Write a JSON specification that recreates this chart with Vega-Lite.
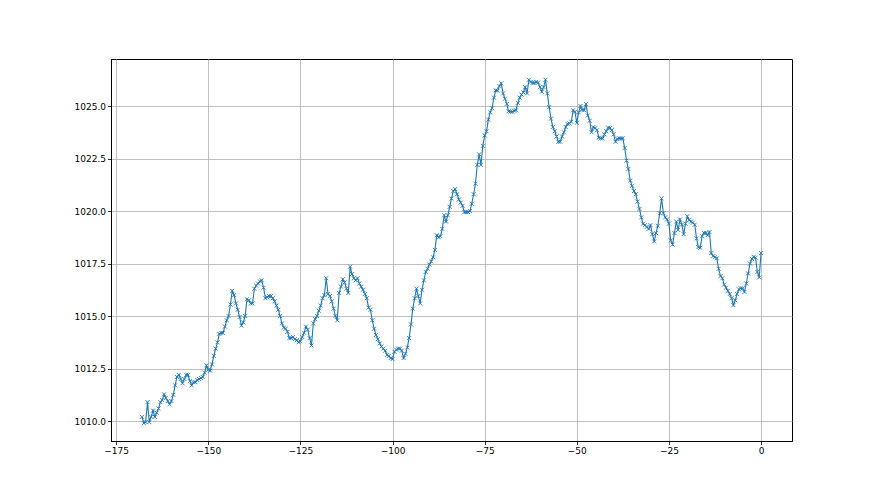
{
  "$schema": "https://vega.github.io/schema/vega-lite/v6.json",
  "width": 681,
  "height": 382,
  "autosize": {"type": "none"},
  "padding": {"left": 111, "top": 59, "right": 88, "bottom": 54},
  "background": "white",
  "config": {
    "view": {"stroke": "black", "strokeWidth": 1},
    "axis": {
      "domainColor": "black", "domainWidth": 1,
      "tickColor": "black", "tickSize": 3.5, "tickWidth": 0.8,
      "gridColor": "#b0b0b0", "gridWidth": 0.8,
      "labelColor": "black", "labelFont": "DejaVu Sans", "labelFontSize": 9,
      "labelPadding": 2, "title": null
    }
  },
  "data": {"values": [
    {"x":-168,"y":1010.2},{"x":-167.5,"y":1009.9},{"x":-167,"y":1009.95},{"x":-166.5,"y":1010.9},{"x":-166,"y":1009.95},{"x":-165.5,"y":1010.2},{"x":-165,"y":1010.5},{"x":-164.5,"y":1010.2},{"x":-164,"y":1010.4},{"x":-163.5,"y":1010.6},{"x":-163,"y":1010.9},{"x":-162.5,"y":1011.0},{"x":-162,"y":1011.27},{"x":-161.5,"y":1011.1},{"x":-161,"y":1010.95},{"x":-160.5,"y":1010.8},{"x":-160,"y":1010.95},{"x":-159.5,"y":1011.25},{"x":-159,"y":1011.7},{"x":-158.5,"y":1012.1},{"x":-158,"y":1012.2},{"x":-157.5,"y":1012.0},{"x":-157,"y":1011.8},{"x":-156.5,"y":1012.0},{"x":-156,"y":1012.2},{"x":-155.5,"y":1012.2},{"x":-155,"y":1011.9},{"x":-154.5,"y":1011.7},{"x":-154,"y":1011.85},{"x":-153.5,"y":1011.85},{"x":-153,"y":1011.95},{"x":-152.5,"y":1012.0},{"x":-152,"y":1012.05},{"x":-151.5,"y":1012.1},{"x":-151,"y":1012.3},{"x":-150.5,"y":1012.65},{"x":-150,"y":1012.45},{"x":-149.5,"y":1012.4},{"x":-149,"y":1012.7},{"x":-148.5,"y":1013.1},{"x":-148,"y":1013.45},{"x":-147.5,"y":1013.75},{"x":-147,"y":1014.15},{"x":-146.5,"y":1014.2},{"x":-146,"y":1014.2},{"x":-145.5,"y":1014.5},{"x":-145,"y":1014.8},{"x":-144.5,"y":1015.0},{"x":-144,"y":1015.55},{"x":-143.5,"y":1016.2},{"x":-143,"y":1016.0},{"x":-142.5,"y":1015.6},{"x":-142,"y":1015.3},{"x":-141.5,"y":1014.95},{"x":-141,"y":1014.55},{"x":-140.5,"y":1014.7},{"x":-140,"y":1015.0},{"x":-139.5,"y":1015.8},{"x":-139,"y":1015.75},{"x":-138.5,"y":1015.6},{"x":-138,"y":1015.6},{"x":-137.5,"y":1016.3},{"x":-137,"y":1016.45},{"x":-136.5,"y":1016.55},{"x":-136,"y":1016.65},{"x":-135.5,"y":1016.7},{"x":-135,"y":1016.35},{"x":-134.5,"y":1015.85},{"x":-134,"y":1015.9},{"x":-133.5,"y":1015.95},{"x":-133,"y":1015.95},{"x":-132.5,"y":1015.85},{"x":-132,"y":1015.7},{"x":-131.5,"y":1015.5},{"x":-131,"y":1015.3},{"x":-130.5,"y":1015.0},{"x":-130,"y":1014.65},{"x":-129.5,"y":1014.45},{"x":-129,"y":1014.4},{"x":-128.5,"y":1014.25},{"x":-128,"y":1013.95},{"x":-127.5,"y":1013.95},{"x":-127,"y":1014.0},{"x":-126.5,"y":1013.9},{"x":-126,"y":1013.85},{"x":-125.5,"y":1013.75},{"x":-125,"y":1013.8},{"x":-124.5,"y":1014.0},{"x":-124,"y":1014.2},{"x":-123.5,"y":1014.5},{"x":-123,"y":1014.35},{"x":-122.5,"y":1013.95},{"x":-122,"y":1013.6},{"x":-121.5,"y":1014.65},{"x":-121,"y":1014.85},{"x":-120.5,"y":1015.0},{"x":-120,"y":1015.25},{"x":-119.5,"y":1015.5},{"x":-119,"y":1015.85},{"x":-118.5,"y":1016.0},{"x":-118,"y":1016.8},{"x":-117.5,"y":1016.05},{"x":-117,"y":1015.95},{"x":-116.5,"y":1015.7},{"x":-116,"y":1015.35},{"x":-115.5,"y":1015.0},{"x":-115,"y":1014.8},{"x":-114.5,"y":1016.1},{"x":-114,"y":1016.4},{"x":-113.5,"y":1016.75},{"x":-113,"y":1016.6},{"x":-112.5,"y":1016.3},{"x":-112,"y":1016.1},{"x":-111.5,"y":1017.35},{"x":-111,"y":1017.0},{"x":-110.5,"y":1016.8},{"x":-110,"y":1016.7},{"x":-109.5,"y":1016.8},{"x":-109,"y":1016.55},{"x":-108.5,"y":1016.4},{"x":-108,"y":1016.25},{"x":-107.5,"y":1016.05},{"x":-107,"y":1015.85},{"x":-106.5,"y":1015.4},{"x":-106,"y":1015.3},{"x":-105.5,"y":1014.8},{"x":-105,"y":1014.4},{"x":-104.5,"y":1014.1},{"x":-104,"y":1013.9},{"x":-103.5,"y":1013.7},{"x":-103,"y":1013.55},{"x":-102.5,"y":1013.45},{"x":-102,"y":1013.35},{"x":-101.5,"y":1013.15},{"x":-101,"y":1013.1},{"x":-100.5,"y":1013.0},{"x":-100,"y":1012.95},{"x":-99.5,"y":1013.3},{"x":-99,"y":1013.4},{"x":-98.5,"y":1013.45},{"x":-98,"y":1013.45},{"x":-97.5,"y":1013.35},{"x":-97,"y":1013.0},{"x":-96.5,"y":1013.2},{"x":-96,"y":1013.5},{"x":-95.5,"y":1013.95},{"x":-95,"y":1014.6},{"x":-94.5,"y":1015.35},{"x":-94,"y":1015.85},{"x":-93.5,"y":1016.3},{"x":-93,"y":1015.95},{"x":-92.5,"y":1015.6},{"x":-92,"y":1016.25},{"x":-91.5,"y":1016.7},{"x":-91,"y":1017.1},{"x":-90.5,"y":1017.25},{"x":-90,"y":1017.45},{"x":-89.5,"y":1017.6},{"x":-89,"y":1017.8},{"x":-88.5,"y":1018.15},{"x":-88,"y":1018.85},{"x":-87.5,"y":1018.75},{"x":-87,"y":1018.8},{"x":-86.5,"y":1019.15},{"x":-86,"y":1019.8},{"x":-85.5,"y":1019.5},{"x":-85,"y":1019.8},{"x":-84.5,"y":1020.2},{"x":-84,"y":1020.6},{"x":-83.5,"y":1020.95},{"x":-83,"y":1021.05},{"x":-82.5,"y":1020.8},{"x":-82,"y":1020.55},{"x":-81.5,"y":1020.4},{"x":-81,"y":1020.25},{"x":-80.5,"y":1019.95},{"x":-80,"y":1019.95},{"x":-79.5,"y":1019.95},{"x":-79,"y":1020.0},{"x":-78.5,"y":1020.35},{"x":-78,"y":1020.8},{"x":-77.5,"y":1021.3},{"x":-77,"y":1022.2},{"x":-76.5,"y":1022.7},{"x":-76,"y":1022.2},{"x":-75.5,"y":1023.1},{"x":-75,"y":1023.6},{"x":-74.5,"y":1023.8},{"x":-74,"y":1024.35},{"x":-73.5,"y":1024.7},{"x":-73,"y":1024.9},{"x":-72.5,"y":1025.4},{"x":-72,"y":1025.75},{"x":-71.5,"y":1025.73},{"x":-71,"y":1025.95},{"x":-70.5,"y":1026.08},{"x":-70,"y":1025.6},{"x":-69.5,"y":1025.35},{"x":-69,"y":1025.1},{"x":-68.5,"y":1024.75},{"x":-68,"y":1024.73},{"x":-67.5,"y":1024.73},{"x":-67,"y":1024.78},{"x":-66.5,"y":1024.8},{"x":-66,"y":1025.15},{"x":-65.5,"y":1025.4},{"x":-65,"y":1025.55},{"x":-64.5,"y":1025.65},{"x":-64,"y":1025.9},{"x":-63.5,"y":1025.6},{"x":-63,"y":1026.25},{"x":-62.5,"y":1026.15},{"x":-62,"y":1026.1},{"x":-61.5,"y":1026.1},{"x":-61,"y":1026.15},{"x":-60.5,"y":1026.12},{"x":-60,"y":1025.9},{"x":-59.5,"y":1025.68},{"x":-59,"y":1025.9},{"x":-58.5,"y":1026.25},{"x":-58,"y":1025.6},{"x":-57.5,"y":1024.95},{"x":-57,"y":1024.4},{"x":-56.5,"y":1024.0},{"x":-56,"y":1023.8},{"x":-55.5,"y":1023.55},{"x":-55,"y":1023.3},{"x":-54.5,"y":1023.3},{"x":-54,"y":1023.55},{"x":-53.5,"y":1023.75},{"x":-53,"y":1024.0},{"x":-52.5,"y":1024.15},{"x":-52,"y":1024.17},{"x":-51.5,"y":1024.25},{"x":-51,"y":1024.8},{"x":-50.5,"y":1024.73},{"x":-50,"y":1024.2},{"x":-49.5,"y":1024.7},{"x":-49,"y":1025.0},{"x":-48.5,"y":1024.81},{"x":-48,"y":1024.8},{"x":-47.5,"y":1025.1},{"x":-47,"y":1024.55},{"x":-46.5,"y":1024.3},{"x":-46,"y":1023.75},{"x":-45.5,"y":1024.0},{"x":-45,"y":1023.95},{"x":-44.5,"y":1023.85},{"x":-44,"y":1023.5},{"x":-43.5,"y":1023.46},{"x":-43,"y":1023.46},{"x":-42.5,"y":1023.65},{"x":-42,"y":1023.8},{"x":-41.5,"y":1023.97},{"x":-41,"y":1023.95},{"x":-40.5,"y":1023.85},{"x":-40,"y":1023.65},{"x":-39.5,"y":1023.3},{"x":-39,"y":1023.43},{"x":-38.5,"y":1023.46},{"x":-38,"y":1023.46},{"x":-37.5,"y":1023.46},{"x":-37,"y":1023.0},{"x":-36.5,"y":1022.4},{"x":-36,"y":1022.0},{"x":-35.5,"y":1021.45},{"x":-35,"y":1021.2},{"x":-34.5,"y":1020.95},{"x":-34,"y":1020.8},{"x":-33.5,"y":1020.45},{"x":-33,"y":1020.1},{"x":-32.5,"y":1019.7},{"x":-32,"y":1019.4},{"x":-31.5,"y":1019.33},{"x":-31,"y":1019.25},{"x":-30.5,"y":1019.15},{"x":-30,"y":1019.33},{"x":-29.5,"y":1018.9},{"x":-29,"y":1018.55},{"x":-28.5,"y":1018.95},{"x":-28,"y":1019.3},{"x":-27.5,"y":1019.9},{"x":-27,"y":1020.6},{"x":-26.5,"y":1019.9},{"x":-26,"y":1019.7},{"x":-25.5,"y":1019.6},{"x":-25,"y":1019.4},{"x":-24.5,"y":1018.6},{"x":-24,"y":1018.4},{"x":-23.5,"y":1018.95},{"x":-23,"y":1019.5},{"x":-22.5,"y":1019.1},{"x":-22,"y":1019.6},{"x":-21.5,"y":1019.35},{"x":-21,"y":1018.9},{"x":-20.5,"y":1019.4},{"x":-20,"y":1019.75},{"x":-19.5,"y":1019.57},{"x":-19,"y":1019.5},{"x":-18.5,"y":1019.45},{"x":-18,"y":1019.35},{"x":-17.5,"y":1018.7},{"x":-17,"y":1018.28},{"x":-16.5,"y":1018.25},{"x":-16,"y":1018.8},{"x":-15.5,"y":1018.96},{"x":-15,"y":1018.96},{"x":-14.5,"y":1018.85},{"x":-14,"y":1019.0},{"x":-13.5,"y":1018.0},{"x":-13,"y":1017.85},{"x":-12.5,"y":1017.8},{"x":-12,"y":1017.75},{"x":-11.5,"y":1017.25},{"x":-11,"y":1016.9},{"x":-10.5,"y":1016.8},{"x":-10,"y":1016.5},{"x":-9.5,"y":1016.35},{"x":-9,"y":1016.2},{"x":-8.5,"y":1016.05},{"x":-8,"y":1015.85},{"x":-7.5,"y":1015.52},{"x":-7,"y":1015.75},{"x":-6.5,"y":1016.05},{"x":-6,"y":1016.27},{"x":-5.5,"y":1016.32},{"x":-5,"y":1016.32},{"x":-4.5,"y":1016.15},{"x":-4,"y":1016.55},{"x":-3.5,"y":1017.03},{"x":-3,"y":1017.5},{"x":-2.5,"y":1017.72},{"x":-2,"y":1017.82},{"x":-1.5,"y":1017.78},{"x":-1,"y":1017.1},{"x":-0.5,"y":1016.84},{"x":0,"y":1018.0}
  ]},
  "encoding": {
    "x": {"field": "x", "type": "quantitative",
      "scale": {"domain": [-176.4, 8.4], "nice": false, "zero": false},
      "axis": {"values": [-175, -150, -125, -100, -75, -50, -25, 0], "format": "d"}},
    "y": {"field": "y", "type": "quantitative",
      "scale": {"domain": [1009.05, 1027.24], "nice": false, "zero": false},
      "axis": {"values": [1010, 1012.5, 1015, 1017.5, 1020, 1022.5, 1025], "format": ".1f"}}
  },
  "layer": [
    {"mark": {"type": "line", "color": "#1f77b4", "strokeWidth": 1.1}},
    {"mark": {"type": "point", "shape": "M-1,-1L1,1M-1,1L1,-1", "filled": false, "color": "#1f77b4", "size": 16, "strokeWidth": 0.9, "opacity": 1}}
  ]
}
